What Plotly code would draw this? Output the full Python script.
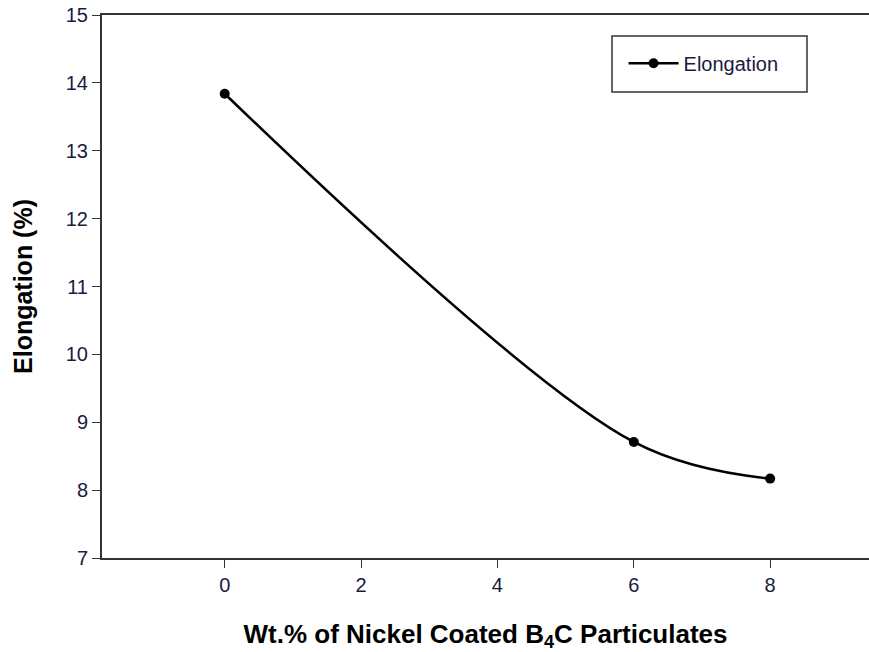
import plotly.graph_objects as go

wt_pct = [0, 6, 8]
elongation = [13.84, 8.71, 8.17]
series_name = "Elongation"
x_ticks = [0, 2, 4, 6, 8]
y_ticks = [7, 8, 9, 10, 11, 12, 13, 14, 15]

FONT = "Liberation Sans, Arial, sans-serif"
fig = go.Figure()
fig.add_trace(go.Scatter(
    x=wt_pct, y=elongation, name=series_name, mode="lines+markers",
    line=dict(color="black", width=2.5, shape="spline", smoothing=1.0),
    marker=dict(color="black", size=10, symbol="circle"),
))

axis_font = dict(family=FONT, size=20, color="#1a1a40")
fig.update_layout(
    width=869, height=652,
    margin=dict(l=102, r=0, t=15, b=94),
    plot_bgcolor="white", paper_bgcolor="white",
    font=dict(family=FONT),
    showlegend=True,
    legend=dict(x=0.68, y=0.947, xanchor="left", yanchor="top", itemwidth=50,
                borderwidth=0, bgcolor="rgba(0,0,0,0)",
                font=dict(size=20, color="#1a1a40")),
    shapes=[dict(type="rect", xref="paper", yref="paper",
                 x0=(612 - 102) / 767, x1=(807 - 102) / 767,
                 y0=(558 - 92) / 543, y1=(558 - 36) / 543,
                 line=dict(color="#333333", width=1.5), fillcolor="white", layer="below")],
    xaxis=dict(range=[-1.8, 9.45], tickvals=x_ticks, ticks="outside", ticklen=8,
               tickcolor="#333333", showline=True, linecolor="#333333", linewidth=2,
               mirror=True, showgrid=False, zeroline=False, tickfont=axis_font,
               title=dict(text="<b>Wt.% of Nickel Coated B<sub>4</sub>C Particulates</b>",
                          font=dict(size=26, color="black"), standoff=30)),
    yaxis=dict(range=[7, 15], tickvals=y_ticks, ticks="outside", ticklen=8,
               tickcolor="#333333", showline=True, linecolor="#333333", linewidth=2,
               showgrid=False, zeroline=False, tickfont=axis_font,
               title=dict(text="<b>Elongation (%)</b>", font=dict(size=25, color="black"),
                          standoff=26)),
)
fig.write_html("out.html", config={"displayModeBar": False},
               post_script="document.body.style.margin='0';")
